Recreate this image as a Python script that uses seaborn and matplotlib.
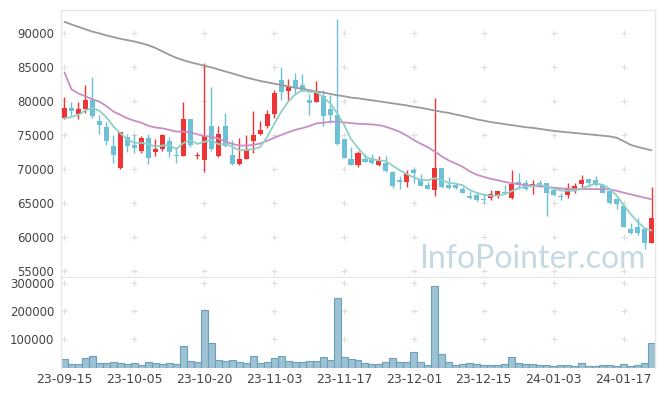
import numpy as np
import pandas as pd
import matplotlib
matplotlib.use('Agg')
import matplotlib.pyplot as plt
import seaborn as sns

# daily candles, index 0 = 23-09-15 ... 84 = 24-01-23
tick_labels = ['23-09-15', '23-10-05', '23-10-20', '23-11-03', '23-11-17',
               '23-12-01', '23-12-15', '24-01-03', '24-01-17']

opens = [77550, 78950, 78100, 78800, 80150, 77050, 76200, 73400, 70200, 74700,
         73600, 72600, 74500, 72550, 72900, 74100, 72000, 71950, 77350, 71900,
         71350, 76350, 71950, 76300, 72050, 70700, 71500, 74150, 75150, 76330,
         78150, 83100, 81450, 83100, 82350, 80150, 79900, 80700, 78800, 77950,
         74400, 71450, 70600, 71450, 71650, 70600, 70950, 69600, 68450, 68150,
         69850, 68500, 67650, 66900, 70100, 67650, 67650, 67000, 66050, 66250,
         65550, 65800, 66200, 66650, 65700, 68150, 67950, 67500, 68000, 68000,
         66900, 65950, 66250, 67050, 67800, 68500, 68400, 67650, 66750, 65650,
         64550, 61150, 61400, 61250, 59150]
highs = [80550, 79850, 79850, 82350, 83500, 77900, 76950, 74950, 75450, 75200,
         75100, 74850, 75200, 74350, 75150, 74650, 73250, 79800, 77350, 72450,
         85550, 82000, 76350, 78250, 74250, 74500, 75000, 78530, 77050, 78700,
         81600, 84950, 83200, 84050, 83900, 81100, 83000, 81600, 80900, 92000,
         74400, 73200, 72700, 72200, 72250, 71950, 71850, 69750, 68950, 69850,
         70150, 69250, 68100, 80400, 70100, 68800, 68000, 67300, 66700, 66650,
         66400, 66850, 66800, 67650, 69850, 69400, 68400, 68450, 68450, 68000,
         66950, 66400, 67900, 68000, 69100, 68550, 68950, 67700, 67200, 65700,
         64600, 62100, 62750, 61300, 67400]
lows = [77350, 77800, 77300, 78300, 77450, 75100, 73550, 70950, 70000, 72450,
        72350, 72400, 70800, 71950, 72700, 71800, 70950, 71950, 73300, 71450,
        69500, 72700, 71800, 73300, 70650, 70600, 71500, 72300, 75000, 76100,
        77500, 80150, 80050, 80900, 81300, 77950, 79900, 76330, 76800, 73600,
        71550, 70600, 70350, 71000, 70700, 70450, 69600, 67150, 67000, 67400,
        68000, 67450, 67000, 66000, 67150, 67100, 67000, 66450, 65550, 65350,
        65000, 65450, 65700, 66350, 65650, 67050, 66950, 66300, 67300, 63100,
        66000, 65400, 65800, 66400, 67150, 67300, 67500, 66450, 64900, 64050,
        61450, 60500, 60300, 58200, 59100]
closes = [78900, 78550, 78800, 80150, 77850, 76450, 74150, 72100, 75450, 73400,
          73100, 74550, 71550, 73000, 75000, 72550, 71950, 77350, 73550, 72000,
          74900, 72900, 75150, 73450, 70800, 71450, 72900, 75000, 75750, 78100,
          81200, 81350, 82100, 82000, 81400, 79750, 81500, 77850, 78000, 73650,
          71650, 70650, 72400, 71100, 70850, 71200, 69750, 67550, 68150, 69250,
          69450, 67550, 67050, 70100, 67400, 67150, 67200, 66500, 65800, 65450,
          65500, 66300, 66750, 66400, 67800, 67800, 67050, 67800, 67550, 66400,
          66200, 65900, 67200, 67500, 68400, 68000, 67650, 66500, 65050, 64800,
          61500, 60550, 60650, 59050, 62750]
volume = [29100, 11300, 11300, 32600, 39700, 14900, 14900, 18400, 14900, 11300,
          14900, 7800, 18400, 14900, 11300, 14900, 11300, 75100, 22000, 18400,
          202800, 85800, 25500, 22000, 25500, 18400, 14900, 39700, 14900, 18400,
          32600, 39700, 22000, 18400, 18400, 22000, 22000, 36200, 25500, 245400,
          36200, 29100, 25500, 14900, 11300, 11300, 18400, 32600, 18400, 18400,
          53900, 18400, 7800, 288000, 46800, 18400, 7800, 11300, 14900, 11300,
          7800, 7800, 7800, 11300, 36200, 14900, 11300, 11300, 7800, 7800,
          4300, 7800, 7800, 4300, 14900, 4300, 4300, 7800, 7800, 4300,
          11300, 4300, 7800, 14900, 85800]
ma5 = [77450, 77650, 77950, 78650, 78950, 78550, 77600, 76250, 75250, 74300,
       73850, 73850, 73650, 73300, 73450, 73500, 72950, 73800, 74250, 73700,
       74000, 74250, 73650, 73680, 73300, 72750, 72800, 72900, 73250, 74700,
       76600, 78400, 79900, 80950, 81600, 81350, 81350, 80550, 79700, 78200,
       76500, 74400, 73100, 71850, 71400, 71280, 71150, 70450, 69800, 69250,
       68750, 68400, 68350, 68650, 68350, 67950, 67850, 67600, 66900, 66500,
       66200, 66050, 66100, 66300, 66750, 67200, 67400, 67500, 67700, 67400,
       67100, 66850, 66800, 66800, 67150, 67500, 67850, 67700, 67100, 66100,
       64700, 63400, 62250, 61300, 60950]
ma20 = [84200, 81700, 81100, 80700, 80250, 79900, 79250, 78450, 77950, 77450,
        77100, 76800, 76350, 76100, 75980, 75750, 75500, 75500, 75400, 75100,
        74850, 74750, 74500, 74050, 73700, 73450, 73450, 73550, 73750, 74150,
        74600, 75000, 75400, 75750, 76000, 76300, 76700, 76800, 76950, 76950,
        76850, 76750, 76650, 76600, 76550, 76450, 76200, 75850, 75450, 74900,
        74250, 73700, 73200, 72550, 71850, 71250, 70800, 70300, 69650, 69150,
        68850, 68550, 68350, 68100, 67900, 67750, 67650, 67550, 67450, 67350,
        67250, 67150, 67100, 67060, 67050, 67050, 67050, 67050, 67000, 66800,
        66520, 66270, 66030, 65780, 65550]
ma60 = [91650, 91250, 90900, 90550, 90200, 89950, 89650, 89400, 89150, 88950,
        88750, 88500, 88200, 87800, 87300, 86800, 86350, 86000, 85700, 85450,
        85200, 84950, 84650, 84350, 84050, 83750, 83450, 83200, 82950, 82750,
        82550, 82350, 82150, 81950, 81800, 81600, 81400, 81250, 81050, 80850,
        80700, 80500, 80400, 80250, 80100, 79950, 79800, 79650, 79500, 79350,
        79150, 79000, 78800, 78600, 78400, 78250, 78000, 77800, 77550, 77300,
        77100, 76900, 76750, 76600, 76450, 76300, 76150, 76050, 75900, 75750,
        75600, 75500, 75400, 75300, 75200, 75100, 75000, 74900, 74800, 74600,
        74100, 73550, 73250, 73000, 72750]
price_ticks = [55000, 60000, 65000, 70000, 75000, 80000, 85000, 90000]
volume_ticks = [100000, 200000, 300000]

UP = '#ee3434'
DOWN = '#6cc0d8'
GRID = '#dedede'
FRAME = '#e6e6e6'


def setup_style():
    sns.set_theme(style="white")
    plt.rcParams['font.family'] = ['DejaVu Sans']
    plt.rcParams['axes.edgecolor'] = FRAME
    plt.rcParams['axes.linewidth'] = 1.0


def add_cross_grid(ax, xs, ys):
    gx, gy = np.meshgrid(xs, ys)
    ax.scatter(gx.ravel(), gy.ravel(), marker='+', s=22, color=GRID,
               linewidths=0.8, zorder=0)


def plot_candles(ax, df):
    up = df['close'] >= df['open']
    colors = np.where(up, UP, DOWN)
    ax.vlines(df['idx'], df['low'], df['high'], colors=colors, linewidth=1.0, zorder=2)
    body_lo = np.minimum(df['open'], df['close'])
    body_h = np.maximum((df['close'] - df['open']).abs(), 150)
    ax.bar(df['idx'], body_h, bottom=body_lo, width=0.72, color=colors,
           linewidth=0, zorder=3)


def main():
    setup_style()
    n = len(closes)
    df = pd.DataFrame({'idx': np.arange(n), 'open': opens, 'high': highs,
                       'low': lows, 'close': closes, 'volume': volume,
                       'ma5': ma5, 'ma20': ma20, 'ma60': ma60})
    tick_pos = list(range(0, n, 10))[:len(tick_labels)]

    fig = plt.figure(figsize=(6.65, 3.96), dpi=100)
    ax1 = fig.add_axes([61 / 665, 1 - 277 / 396, 594 / 665, 267 / 396])
    ax2 = fig.add_axes([61 / 665, 1 - 367.5 / 396, 594 / 665, 89.5 / 396])

    # price panel
    add_cross_grid(ax1, tick_pos, price_ticks)
    plot_candles(ax1, df)
    sns.lineplot(data=df, x='idx', y='ma60', ax=ax1, color='#9a9a9a', linewidth=1.3, zorder=4)
    sns.lineplot(data=df, x='idx', y='ma20', ax=ax1, color='#c98ec6', linewidth=1.3, zorder=4)
    sns.lineplot(data=df, x='idx', y='ma5', ax=ax1, color='#8fd0c6', linewidth=1.3, zorder=4)
    ax1.set_xlim(-0.5, n - 0.5)
    ax1.set_ylim(54118, 93382)
    ax1.set_yticks(price_ticks)
    ax1.set_yticklabels([str(v) for v in price_ticks])
    ax1.set_xticks(tick_pos)
    ax1.set_xticklabels([])
    ax1.set_xlabel('')
    ax1.set_ylabel('')
    ax1.tick_params(length=0, labelsize=8.5, labelcolor='#444444', pad=5)
    ax1.text(0.985, 0.035, 'InfoPointer.com', transform=ax1.transAxes,
             ha='right', va='baseline', fontsize=23, color='#c6d9e3',
             family='Lato', zorder=5)

    # volume panel
    add_cross_grid(ax2, tick_pos, volume_ticks)
    sns.barplot(data=df, x='idx', y='volume', ax=ax2, color='#9cc2d4',
                edgecolor='#6d9fb8', linewidth=0.8, width=1.0, saturation=1,
                zorder=2)
    ax2.set_xlim(-0.5, n - 0.5)
    ax2.set_ylim(0, 317400)
    ax2.set_yticks(volume_ticks)
    ax2.set_yticklabels([str(v) for v in volume_ticks])
    ax2.set_xticks(tick_pos)
    ax2.set_xticklabels(tick_labels)
    ax2.set_xlabel('')
    ax2.set_ylabel('')
    ax2.tick_params(length=0, labelsize=8.5, labelcolor='#444444', pad=5)
    ax2.tick_params(axis='x', labelsize=9, pad=4)
    ax2.spines['top'].set_visible(False)
    ax2.spines['bottom'].set_visible(False)

    fig.savefig('out.png', dpi=100)
    plt.close(fig)


if __name__ == "__main__":
    main()
